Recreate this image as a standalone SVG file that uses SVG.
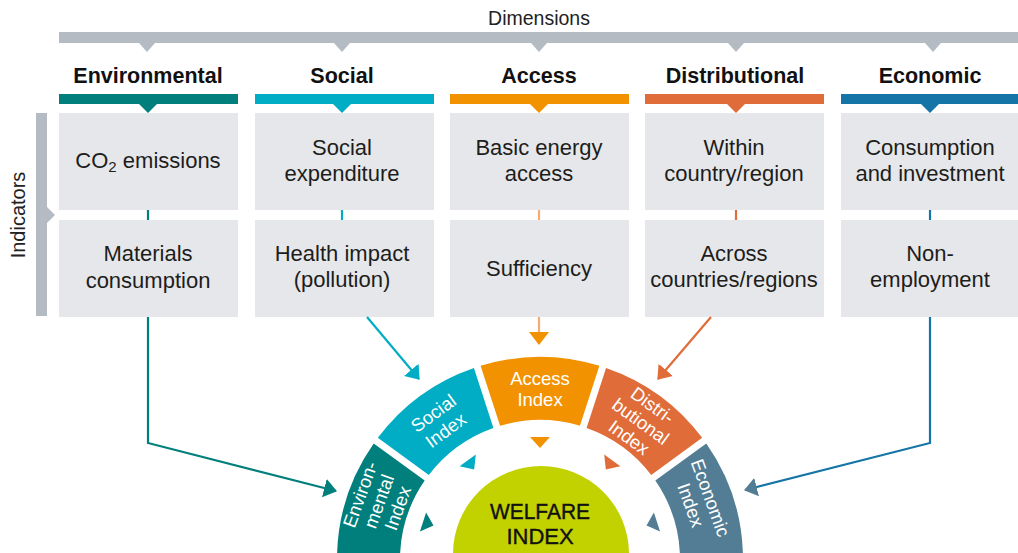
<svg xmlns="http://www.w3.org/2000/svg" width="1018" height="553" viewBox="0 0 1018 553">
<defs>
<style>
text{font-family:"Liberation Sans",Arial,sans-serif}
.hd{font-size:21.5px;font-weight:bold;fill:#111;text-anchor:middle}
.bx{font-size:22px;fill:#1d1d1b;text-anchor:middle}
.box{fill:#e6e7ea}
.gray{fill:#b5bbc2}
.seg{font-size:18.5px;fill:#fff;text-anchor:middle}
.ln{fill:none;stroke-width:2.2}
.env{fill:#007f7c}.soc{fill:#00adc4}.acc{fill:#f39200}.dis{fill:#e06c3a}.eco{fill:#1575a6}.ecs{fill:#527d94}
</style>
<marker id="mEnv" markerUnits="userSpaceOnUse" viewBox="0 0 13 19" markerWidth="13" markerHeight="19" refX="12" refY="9.5" orient="auto"><path d="M0,0 L13,9.5 L0,19 Z" fill="#007f7c"/></marker>
<marker id="mSoc" markerUnits="userSpaceOnUse" viewBox="0 0 13 19" markerWidth="13" markerHeight="19" refX="12" refY="9.5" orient="auto"><path d="M0,0 L13,9.5 L0,19 Z" fill="#00adc4"/></marker>
<marker id="mAcc" markerUnits="userSpaceOnUse" viewBox="0 0 13 20" markerWidth="13" markerHeight="20" refX="12" refY="10" orient="auto"><path d="M0,0 L13,10 L0,20 Z" fill="#f39200"/></marker>
<marker id="mDis" markerUnits="userSpaceOnUse" viewBox="0 0 13 19" markerWidth="13" markerHeight="19" refX="12" refY="9.5" orient="auto"><path d="M0,0 L13,9.5 L0,19 Z" fill="#e06c3a"/></marker>
<marker id="mEco" markerUnits="userSpaceOnUse" viewBox="0 0 13 19" markerWidth="13" markerHeight="19" refX="12" refY="9.5" orient="auto"><path d="M0,0 L13,9.5 L0,19 Z" fill="#527d94"/></marker>
</defs>
<rect width="1018" height="553" fill="#fff"/>

<g id="dimensions">
<text x="539" y="25" text-anchor="middle" style="font-size:19.5px;fill:#222">Dimensions</text>
<rect class="gray" x="59" y="32" width="959" height="11"/>
<polygon class="gray" points="139,43 155,43 147,52"/>
<polygon class="gray" points="334,43 350,43 342,52"/>
<polygon class="gray" points="531,43 547,43 539,52"/>
<polygon class="gray" points="728,43 744,43 736,52"/>
<polygon class="gray" points="925,43 941,43 933,52"/>
</g>

<g id="indicators">
<rect class="gray" x="36" y="113" width="11" height="203"/>
<polygon class="gray" points="47,207 55,215 47,223"/>
<text transform="translate(25,215) rotate(-90)" text-anchor="middle" style="font-size:20px;fill:#222">Indicators</text>
</g>

<g id="col-environmental">
<text class="hd" x="148" y="83">Environmental</text>
<rect class="env" x="59" y="94" width="179" height="10"/>
<polygon class="env" points="139,104 157,104 148,113"/>
<rect class="box" x="59" y="113" width="179" height="97"/>
<rect class="box" x="59" y="220" width="179" height="97"/>
<text class="bx" x="148" y="168">CO<tspan style="font-size:15px" dy="4">2</tspan><tspan dy="-4"> emissions</tspan></text>
<text class="bx" x="148" y="261">Materials</text>
<text class="bx" x="148" y="288">consumption</text>
</g>

<g id="col-social">
<text class="hd" x="342" y="83">Social</text>
<rect class="soc" x="255" y="94" width="179" height="10"/>
<polygon class="soc" points="333,104 351,104 342,113"/>
<rect class="box" x="255" y="113" width="179" height="97"/>
<rect class="box" x="255" y="220" width="179" height="97"/>
<text class="bx" x="342" y="155">Social</text>
<text class="bx" x="342" y="181">expenditure</text>
<text class="bx" x="342" y="261">Health impact</text>
<text class="bx" x="342" y="287">(pollution)</text>
</g>

<g id="col-access">
<text class="hd" x="539" y="83">Access</text>
<rect class="acc" x="450" y="94" width="179" height="10"/>
<polygon class="acc" points="530,104 548,104 539,113"/>
<rect class="box" x="450" y="113" width="179" height="97"/>
<rect class="box" x="450" y="220" width="179" height="97"/>
<text class="bx" x="539" y="155">Basic energy</text>
<text class="bx" x="539" y="181">access</text>
<text class="bx" x="539" y="276">Sufficiency</text>
</g>

<g id="col-distributional">
<text class="hd" x="735" y="83">Distributional</text>
<rect class="dis" x="645" y="94" width="179" height="10"/>
<polygon class="dis" points="727,104 745,104 736,113"/>
<rect class="box" x="645" y="113" width="179" height="97"/>
<rect class="box" x="645" y="220" width="179" height="97"/>
<text class="bx" x="734" y="155">Within</text>
<text class="bx" x="734" y="181">country/region</text>
<text class="bx" x="734" y="261">Across</text>
<text class="bx" x="734" y="287">countries/regions</text>
</g>

<g id="col-economic">
<text class="hd" x="930" y="83">Economic</text>
<rect class="eco" x="841" y="94" width="177" height="10"/>
<polygon class="eco" points="921,104 939,104 930,113"/>
<rect class="box" x="841" y="113" width="177" height="97"/>
<rect class="box" x="841" y="220" width="177" height="97"/>
<text class="bx" x="930" y="155">Consumption</text>
<text class="bx" x="930" y="181">and investment</text>
<text class="bx" x="930" y="261">Non-</text>
<text class="bx" x="930" y="287">employment</text>
</g>

<g id="connectors">
<line x1="148" y1="210" x2="148" y2="220" stroke="#007f7c" stroke-width="2.2"/>
<line x1="342" y1="210" x2="342" y2="220" stroke="#00adc4" stroke-width="2.2"/>
<line x1="539" y1="210" x2="539" y2="220" stroke="#f6ab72" stroke-width="2.2"/>
<line x1="736" y1="210" x2="736" y2="220" stroke="#e06c3a" stroke-width="2.2"/>
<line x1="930" y1="210" x2="930" y2="220" stroke="#1575a6" stroke-width="2.2"/>
<path class="ln" d="M148,317 V443 L336,491" stroke="#007f7c" marker-end="url(#mEnv)"/>
<path class="ln" d="M367,317 L419,379" stroke="#00adc4" marker-end="url(#mSoc)"/>
<path class="ln" d="M539,317 V344" stroke="#f6ab72" marker-end="url(#mAcc)"/>
<path class="ln" d="M711,317 L658,379" stroke="#e06c3a" marker-end="url(#mDis)"/>
<path class="ln" d="M930,317 V443 L745,490" stroke="#1575a6" marker-end="url(#mEco)"/>
</g>

<g id="environmental-index">
<path class="env" d="M373.71,443.51 A203,203 0 0 0 337,556.5 L400,556.5 A140,140 0 0 1 424.68,480.54 Z"/>
<text class="seg" transform="translate(540,560) rotate(-70) translate(0,-171)"><tspan x="0" y="-14">Environ-</tspan><tspan x="0" y="6">mental</tspan><tspan x="0" y="26">Index</tspan></text>
<polygon class="env" points="-10,-123 10,-123 0,-112" transform="translate(540,560) rotate(-72)"/>
</g>

<g id="social-index">
<path class="soc" d="M473.94,368.01 A203,203 0 0 0 377.83,437.85 L428.80,474.88 A140,140 0 0 1 493.41,427.93 Z"/>
<text class="seg" transform="translate(540,560) rotate(-36) translate(0,-171)"><tspan x="0" y="-4">Social</tspan><tspan x="0" y="17">Index</tspan></text>
<polygon class="soc" points="-10,-123 10,-123 0,-112" transform="translate(540,560) rotate(-36)"/>
</g>

<g id="access-index">
<path class="acc" d="M599.40,365.85 A203,203 0 0 0 480.60,365.85 L500.07,425.77 A140,140 0 0 1 579.93,425.77 Z"/>
<text class="seg" transform="translate(540,560) translate(0,-171)"><tspan x="0" y="-4">Access</tspan><tspan x="0" y="17">Index</tspan></text>
<polygon class="acc" points="-10,-123 10,-123 0,-112" transform="translate(540,560)"/>
</g>

<g id="distributional-index">
<path class="dis" d="M702.17,437.85 A203,203 0 0 0 606.06,368.01 L586.59,427.93 A140,140 0 0 1 651.20,474.88 Z"/>
<text class="seg" transform="translate(540,560) rotate(36) translate(0,-171)"><tspan x="0" y="-14">Distri-</tspan><tspan x="0" y="6">butional</tspan><tspan x="0" y="26">Index</tspan></text>
<polygon class="dis" points="-10,-123 10,-123 0,-112" transform="translate(540,560) rotate(36)"/>
</g>

<g id="economic-index">
<path class="ecs" d="M743,556.5 A203,203 0 0 0 706.29,443.51 L655.32,480.54 A140,140 0 0 1 680,556.5 Z"/>
<text class="seg" transform="translate(540,560) rotate(70) translate(0,-171)"><tspan x="0" y="-4">Economic</tspan><tspan x="0" y="17">Index</tspan></text>
<polygon class="ecs" points="-10,-123 10,-123 0,-112" transform="translate(540,560) rotate(72)"/>
</g>

<g id="welfare-index">
<circle cx="541" cy="554" r="88" fill="#c2d100"/>
<text x="540" y="519" text-anchor="middle" textLength="100" lengthAdjust="spacingAndGlyphs" style="font-size:22px;fill:#111;stroke:#111;stroke-width:0.4">WELFARE</text>
<text x="540" y="544" text-anchor="middle" style="font-size:22px;fill:#111;stroke:#111;stroke-width:0.4">INDEX</text>
</g>
</svg>
